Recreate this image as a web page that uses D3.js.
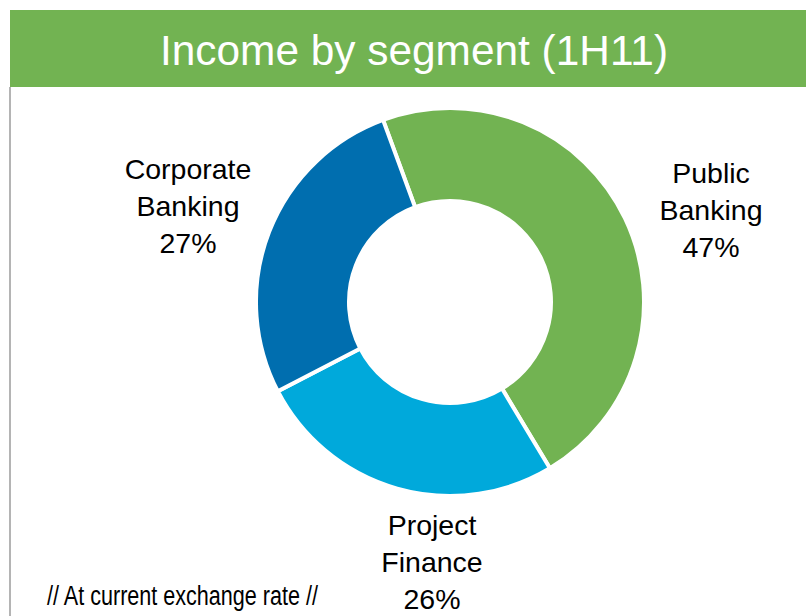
<!DOCTYPE html>
<html lang="en">

<head>
    <meta charset="utf-8">
    <title>Income by segment (1H11)</title>
    <script type="text/javascript" src="https://cdn.jsdelivr.net/npm/d3@7"></script>
    <style type="text/css">
        body {
            margin: 0;
            background: #fff;
        }
        text {
            font-family: "Liberation Sans", Arial, sans-serif;
        }
    </style>
</head>

<body>
    <script type="text/javascript">

        var w = 806;
        var h = 616;

        // segments, in drawing order (clockwise from just left of 12 o'clock)
        var segments = ["Public Banking", "Project Finance", "Corporate Banking"];
        var shares = [47, 26, 27];
        var labelLines = [["Public", "Banking", "47%"], ["Project", "Finance", "26%"], ["Corporate", "Banking", "27%"]];
        var colors = ["#72b352", "#00a9db", "#006eaf"];

        var title = "Income by segment (1H11)";
        var footnote = "// At current exchange rate //";

        var cx = 450, cy = 302;
        var outerR = 194, innerR = 101;
        var startDeg = -20.2;

        var svg = d3.select("body")
            .append("svg")
            .attr("width", w)
            .attr("height", h);

        //Title banner
        svg.append("rect")
            .attr("x", 10)
            .attr("y", 10)
            .attr("width", w - 10)
            .attr("height", 77)
            .attr("fill", "#72b352");

        svg.append("text")
            .attr("x", 414)
            .attr("y", 65)
            .attr("text-anchor", "middle")
            .attr("font-size", "43px")
            .attr("fill", "#fff")
            .attr("textLength", 508)
            .attr("lengthAdjust", "spacingAndGlyphs")
            .text(title);

        //left frame line
        svg.append("line")
            .attr("x1", 10).attr("x2", 10)
            .attr("y1", 87).attr("y2", h)
            .attr("stroke", "#b4b4b4")
            .attr("stroke-width", 2);

        var pie = d3.pie()
            .sort(null)
            .startAngle(startDeg * Math.PI / 180)
            .endAngle((startDeg + 360) * Math.PI / 180);

        var arc = d3.arc()
            .innerRadius(innerR)
            .outerRadius(outerR);

        var g = svg.append("g")
            .attr("transform", "translate(" + cx + "," + cy + ")");

        g.selectAll("path")
            .data(pie(shares))
            .enter()
            .append("path")
            .attr("d", arc)
            .attr("fill", function (d, i) { return colors[i]; })
            .attr("stroke", "#fff")
            .attr("stroke-width", 4)
            .attr("stroke-linejoin", "miter");

        // label anchors (centre x, first baseline)
        var labelPos = [[711, 183], [432, 535], [188, 179]];

        svg.selectAll("text.lbl")
            .data(labelLines)
            .enter()
            .append("text")
            .attr("class", "lbl")
            .attr("text-anchor", "middle")
            .attr("font-size", "28.5px")
            .attr("fill", "#000")
            .each(function (d, i) {
                var t = d3.select(this);
                d.forEach(function (line, j) {
                    t.append("tspan")
                        .attr("x", labelPos[i][0])
                        .attr("y", labelPos[i][1] + j * 37)
                        .text(line);
                });
            });

        svg.append("text")
            .attr("x", 47)
            .attr("y", 605)
            .attr("font-size", "27px")
            .attr("fill", "#000")
            .style("font-family", "'Liberation Sans Narrow', 'Arial Narrow', 'Liberation Sans', sans-serif")
            .attr("textLength", 271)
            .attr("lengthAdjust", "spacingAndGlyphs")
            .text(footnote);

    </script>
</body>

</html>
